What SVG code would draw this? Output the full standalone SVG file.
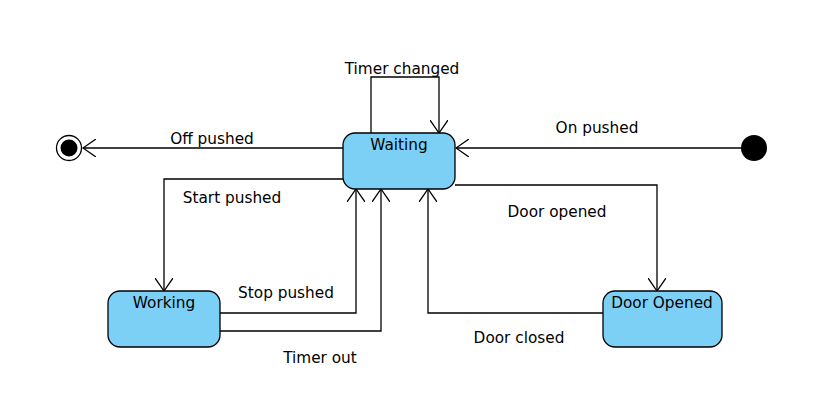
<svg xmlns="http://www.w3.org/2000/svg" width="816" height="404" viewBox="0 0 816 404">
<defs>
<style>
.st{fill:#7ccff5;stroke:#000;stroke-width:1.3}
.e{fill:none;stroke:#000;stroke-width:1.3}
.t{font-family:"DejaVu Sans",sans-serif;font-size:15.3px;fill:#000}
.c{text-anchor:middle}
</style>
<marker id="a" viewBox="0 0 14 18" refX="13" refY="9" markerWidth="14" markerHeight="18" orient="auto" markerUnits="userSpaceOnUse">
<path d="M0,0 L13,9 L0,18" fill="none" stroke="#000" stroke-width="1.3"/>
</marker>
</defs>
<g id="connectors">
<path class="e" d="M343,148 H83" marker-end="url(#a)"/>
<path class="e" d="M741,148 H456" marker-end="url(#a)"/>
<path class="e" d="M371,133 V77 H439 V133" marker-end="url(#a)"/>
<path class="e" d="M343,179 H164 V291" marker-end="url(#a)"/>
<path class="e" d="M220,313 H356 V189" marker-end="url(#a)"/>
<path class="e" d="M220,331 H381 V189" marker-end="url(#a)"/>
<path class="e" d="M455,185 H657 V291" marker-end="url(#a)"/>
<path class="e" d="M603,313 H428 V189" marker-end="url(#a)"/>
<text class="t c" x="402" y="74">Timer changed</text>
<text class="t c" x="212" y="144">Off pushed</text>
<text class="t c" x="597" y="133">On pushed</text>
<text class="t c" x="232" y="203">Start pushed</text>
<text class="t c" x="557" y="217">Door opened</text>
<text class="t c" x="286" y="298">Stop pushed</text>
<text class="t c" x="320" y="363">Timer out</text>
<text class="t c" x="519" y="343">Door closed</text>
</g>
<g id="final">
<circle cx="69" cy="148" r="12.5" fill="#fff" stroke="#000" stroke-width="1.3"/>
<circle cx="69" cy="148" r="8.5" fill="#000"/>
</g>
<g id="initial">
<circle cx="754" cy="148" r="13" fill="#000"/>
</g>
<g id="waiting">
<rect class="st" x="343" y="133" width="112" height="56" rx="12"/>
<text class="t c" x="399" y="150">Waiting</text>
</g>
<g id="working">
<rect class="st" x="108" y="291" width="112" height="56" rx="12"/>
<text class="t c" x="164" y="308">Working</text>
</g>
<g id="dooropened">
<rect class="st" x="603" y="291" width="119" height="56" rx="12"/>
<text class="t c" x="662" y="308">Door Opened</text>
</g>
</svg>
